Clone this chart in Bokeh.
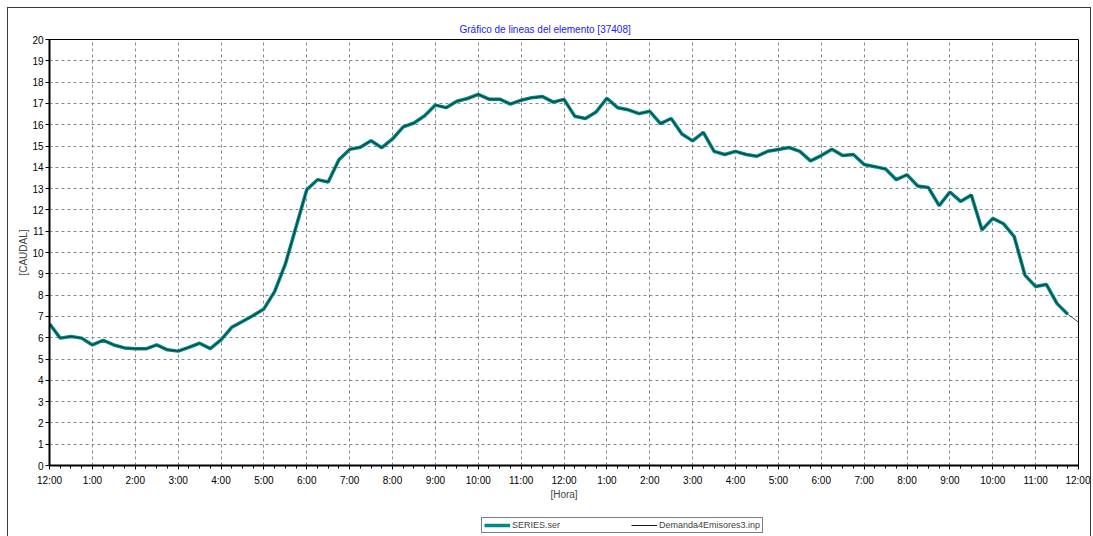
from bokeh.plotting import figure
from bokeh.layouts import column
from bokeh.models import FixedTicker, Legend, LegendItem, Range1d
from bokeh.embed import file_html
from bokeh.resources import INLINE

# 15-minute samples starting at 12:00 (midnight)
step_hours = 0.25
series_values = [
    6.65, 5.98, 6.06, 5.98, 5.66, 5.88, 5.66, 5.52,
    5.48, 5.48, 5.66, 5.43, 5.37, 5.55, 5.74, 5.49,
    5.90, 6.49, 6.76, 7.04, 7.35, 8.16, 9.45, 11.20,
    12.95, 13.42, 13.31, 14.35, 14.84, 14.94, 15.25, 14.92,
    15.33, 15.90, 16.08, 16.42, 16.92, 16.80, 17.10, 17.23,
    17.42, 17.20, 17.20, 16.97, 17.15, 17.27, 17.32, 17.06,
    17.19, 16.40, 16.29, 16.60, 17.24, 16.80, 16.70, 16.52,
    16.63, 16.05, 16.29, 15.56, 15.24, 15.64, 14.75, 14.60,
    14.75, 14.60, 14.52, 14.75, 14.84, 14.93, 14.75, 14.30,
    14.55, 14.85, 14.55, 14.60, 14.13, 14.03, 13.92, 13.42,
    13.65, 13.12, 13.05, 12.20, 12.84, 12.40, 12.70, 11.06,
    11.60, 11.35, 10.75, 8.94, 8.40, 8.50, 7.60, 7.10,
]
demanda_values = series_values + [6.73]

x_ticks = list(range(0, 25))
x_tick_labels = ["12:00"] + [f"{h}:00" for h in range(1, 12)] + ["12:00"] + \
                [f"{h}:00" for h in range(1, 12)] + ["12:00"]
y_ticks = list(range(0, 21))

title_text = "Gráfico de lineas del elemento [37408]"
x_label = "[Hora]"
y_label = "[CAUDAL]"
series_name = "SERIES.ser"
demanda_name = "Demanda4Emisores3.inp"

x_series = [i * step_hours for i in range(len(series_values))]
x_demanda = [i * step_hours for i in range(len(demanda_values))]

FONT = "Liberation Sans"
SERIES_COLOR = "#008a88"
DEMANDA_COLOR = "#151515"

p = figure(width=1082, height=505, output_backend="svg", toolbar_location=None,
           x_range=Range1d(0, 24), y_range=Range1d(0, 20),
           min_border_left=41, min_border_right=12, min_border_top=31,
           min_border_bottom=48)

p.title.text = title_text
p.title.align = "left"
p.title.offset = 410
p.title.text_color = "#2020ff"
p.title.text_font = FONT
p.title.text_font_size = "10px"
p.title.text_font_style = "normal"
p.title.standoff = 9

p.outline_line_color = "black"
p.outline_line_width = 1
p.background_fill_color = "white"
p.border_fill_color = "white"

# grid
for g in (p.xgrid, p.ygrid):
    g.grid_line_color = "#8a8a8a"
    g.grid_line_dash = "3 3"
    g.grid_line_width = 1
p.xgrid.ticker = FixedTicker(ticks=x_ticks)
p.ygrid.ticker = FixedTicker(ticks=y_ticks)

# x axis
xa = p.xaxis[0]
xa.ticker = FixedTicker(ticks=x_ticks,
                        minor_ticks=[i * step_hours for i in range(97)])
xa.major_label_overrides = {t: lbl for t, lbl in zip(x_ticks, x_tick_labels)}
xa.axis_line_width = 2
xa.axis_line_color = "black"
xa.major_tick_out = 4
xa.major_tick_in = 0
xa.minor_tick_out = 3
xa.minor_tick_in = 0
xa.major_tick_line_color = "black"
xa.minor_tick_line_color = "black"
xa.major_label_text_font = FONT
xa.major_label_text_font_size = "10px"
xa.major_label_text_color = "black"
xa.major_label_standoff = 5
xa.axis_label = x_label
xa.axis_label_text_font = FONT
xa.axis_label_text_font_size = "10px"
xa.axis_label_text_font_style = "normal"
xa.axis_label_standoff = 0

# y axis
ya = p.yaxis[0]
ya.ticker = FixedTicker(ticks=y_ticks)
ya.axis_line_width = 2
ya.axis_line_color = "black"
ya.major_tick_out = 4
ya.major_tick_in = 0
ya.minor_tick_line_color = None
ya.major_tick_line_color = "black"
ya.major_label_text_font = FONT
ya.major_label_text_font_size = "10px"
ya.major_label_text_color = "black"
ya.major_label_standoff = 2
ya.axis_label = y_label
ya.axis_label_text_font = FONT
ya.axis_label_text_font_size = "10px"
ya.axis_label_text_font_style = "normal"
ya.axis_label_standoff = 0

p.line(x_series, series_values, line_color=SERIES_COLOR, line_width=3.5)
p.line(x_demanda, demanda_values, line_color=DEMANDA_COLOR, line_width=1,
       line_alpha=0.75)

# legend strip below the chart (its ranges keep the proxy lines out of view)
pl = figure(width=1082, height=23, output_backend="svg", toolbar_location=None,
            x_axis_type=None, y_axis_type=None, min_border=0,
            x_range=Range1d(0, 1), y_range=Range1d(0, 1))
pl.outline_line_color = None
pl.xgrid.visible = False
pl.ygrid.visible = False
lr1 = pl.line(x_series, series_values, line_color=SERIES_COLOR, line_width=3.5)
lr2 = pl.line(x_demanda, demanda_values, line_color=DEMANDA_COLOR, line_width=1)

legend = Legend(items=[LegendItem(label=series_name, renderers=[lr1]),
                       LegendItem(label=demanda_name, renderers=[lr2])],
                orientation="horizontal", location=(432, 3))
legend.border_line_color = "black"
legend.border_line_width = 1
legend.background_fill_color = "white"
legend.background_fill_alpha = 1
legend.label_text_font = FONT
legend.label_text_font_size = "9px"
legend.label_standoff = 2
legend.glyph_width = 26
legend.glyph_height = 10
legend.label_height = 10
legend.label_width = 101
legend.padding = 2
legend.spacing = 18
legend.margin = 0
pl.add_layout(legend, "center")

layout = column(p, pl, spacing=0,
                styles={"margin-left": "7px", "margin-top": "7px",
                        "border-top": "1px solid #3a3a3a",
                        "border-left": "1px solid #3a3a3a",
                        "border-right": "1px solid #3a3a3a"})

open("out.html", "w").write(file_html(layout, INLINE))
